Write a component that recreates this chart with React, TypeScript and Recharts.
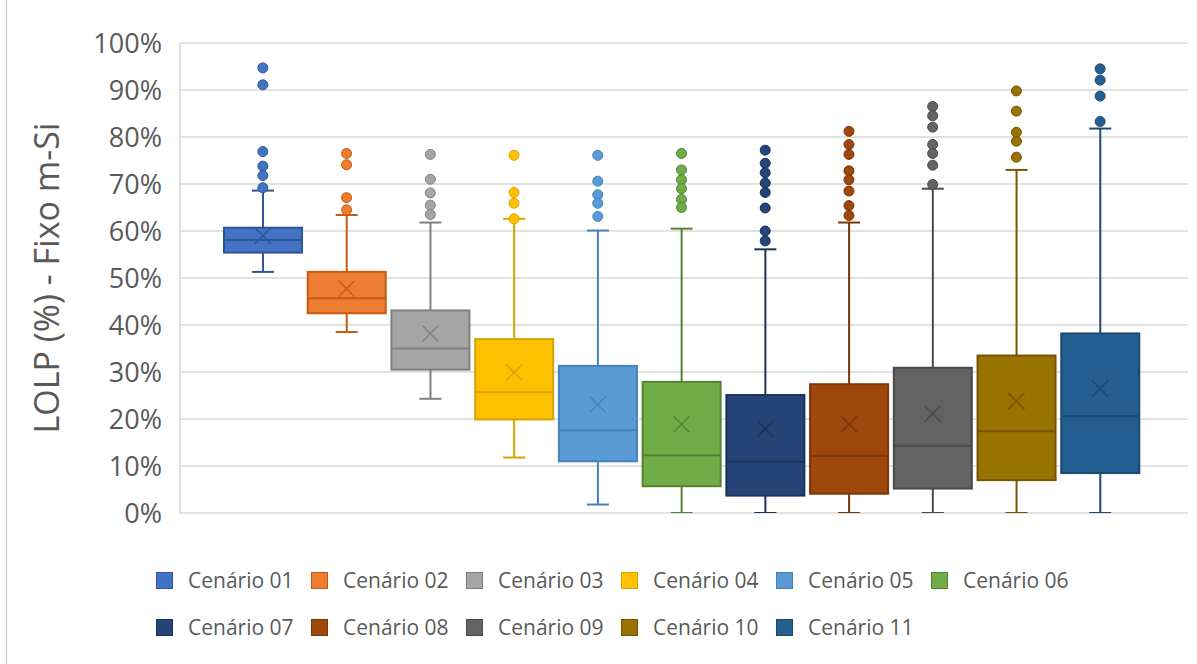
import React from 'react';
import { ComposedChart, Bar, Scatter, XAxis, YAxis, CartesianGrid } from 'recharts';

// one entry per scenario, values in %
const scenarios = ['Cenário 01', 'Cenário 02', 'Cenário 03', 'Cenário 04', 'Cenário 05', 'Cenário 06', 'Cenário 07', 'Cenário 08', 'Cenário 09', 'Cenário 10', 'Cenário 11'];
const whiskerLow = [51.3, 38.5, 24.3, 11.8, 1.8, 0, 0, 0, 0, 0, 0];
const q1 = [55.4, 42.5, 30.5, 19.9, 11.0, 5.7, 3.7, 4.1, 5.2, 7.0, 8.5];
const median = [58.1, 45.7, 35.0, 25.7, 17.6, 12.3, 10.9, 12.2, 14.3, 17.4, 20.6];
const q3 = [60.7, 51.3, 43.1, 37.0, 31.3, 27.9, 25.1, 27.4, 30.9, 33.5, 38.2];
const whiskerHigh = [68.6, 63.4, 61.8, 62.6, 60.1, 60.5, 56.1, 61.8, 69.0, 73.0, 81.8];
const means = [59.0, 47.7, 38.2, 29.9, 23.1, 18.9, 17.9, 18.9, 21.1, 23.8, 26.5];
const outliers = [
  [94.7, 91.1, 76.9, 73.8, 71.8, 69.2],
  [76.5, 74.1, 67.1, 64.5],
  [76.3, 71.0, 68.1, 65.5, 63.5],
  [76.1, 68.2, 65.9, 62.6],
  [76.1, 70.6, 67.7, 65.9, 63.1],
  [76.5, 73.0, 70.9, 69.0, 66.7, 65.0],
  [77.2, 74.4, 72.4, 70.2, 68.2, 64.9, 60.0, 57.9],
  [81.2, 78.4, 76.3, 72.8, 70.9, 68.5, 65.4, 63.3],
  [86.5, 84.5, 82.1, 78.4, 76.5, 74.0, 69.9],
  [89.8, 85.5, 81.0, 79.1, 75.7],
  [94.5, 92.1, 88.7, 83.3],
];
const yTicks = [0, 10, 20, 30, 40, 50, 60, 70, 80, 90, 100];

const fills = ['#4472C4', '#ED7D31', '#A5A5A5', '#FFC000', '#5B9BD5', '#70AD47', '#264478', '#9E480E', '#636363', '#997300', '#255E91'];
const strokes = ['#2F5597', '#C55A11', '#7F7F7F', '#D6A300', '#4382BE', '#548235', '#1B3358', '#7A3609', '#4A4A4A', '#735600', '#1C4A73'];

const boxData = scenarios.map((name, i) => ({
  name,
  idx: i,
  low: whiskerLow[i],
  q1: q1[i],
  med: median[i],
  q3: q3[i],
  high: whiskerHigh[i],
}));
const meanData = scenarios.map((name, i) => ({ name, idx: i, y: means[i] }));
const outlierData = outliers.flatMap((vals, i) => vals.map((v) => ({ name: scenarios[i], idx: i, y: v })));

const FONT = '"Open Sans", sans-serif';
const TEXT = '#595959';

const BoxShape = (props: any) => {
  const { x, y, width, height, payload } = props;
  const top = Math.min(y, y + height);
  const bot = Math.max(y, y + height);
  const k = (bot - top) / (payload.high - payload.low);
  const toY = (v: number) => bot - (v - payload.low) * k;
  const cx = x + width / 2;
  const fill = fills[payload.idx];
  const stroke = strokes[payload.idx];
  const cap = 11;
  return (
    <g>
      <line x1={cx} x2={cx} y1={top} y2={toY(payload.q3)} stroke={stroke} strokeWidth={2} />
      <line x1={cx} x2={cx} y1={toY(payload.q1)} y2={bot} stroke={stroke} strokeWidth={2} />
      <line x1={cx - cap} x2={cx + cap} y1={top} y2={top} stroke={stroke} strokeWidth={2} />
      <line x1={cx - cap} x2={cx + cap} y1={bot} y2={bot} stroke={stroke} strokeWidth={2} />
      <rect x={x} y={toY(payload.q3)} width={width} height={toY(payload.q1) - toY(payload.q3)} fill={fill} stroke={stroke} strokeWidth={2} />
      <line x1={x} x2={x + width} y1={toY(payload.med)} y2={toY(payload.med)} stroke={stroke} strokeWidth={2} />
    </g>
  );
};

const MeanShape = (props: any) => {
  const { cx, cy, payload } = props;
  const s = 8;
  const stroke = strokes[payload.idx];
  return (
    <g>
      <line x1={cx - s} y1={cy - s} x2={cx + s} y2={cy + s} stroke={stroke} strokeWidth={1.5} />
      <line x1={cx - s} y1={cy + s} x2={cx + s} y2={cy - s} stroke={stroke} strokeWidth={1.5} />
    </g>
  );
};

const OutlierShape = (props: any) => {
  const { cx, cy, payload } = props;
  return <circle cx={cx} cy={cy} r={5} fill={fills[payload.idx]} stroke={strokes[payload.idx]} strokeWidth={1} />;
};

const YLabel = (props: any) => {
  const { viewBox } = props;
  const cy = viewBox.y + viewBox.height / 2;
  return (
    <text
      x={46}
      y={cy}
      transform={`rotate(-90, 46, ${cy})`}
      textAnchor="middle"
      dominantBaseline="central"
      fill={TEXT}
      fontSize={34}
      fontFamily={FONT}
    >
      LOLP (%) - Fixo m-Si
    </text>
  );
};

export default function App() {
  return (
    <div style={{ position: 'absolute', left: 0, top: 0, width: 1197, height: 664, background: '#fff', overflow: 'hidden' }}>
      <div style={{ position: 'absolute', left: 6, top: 0, width: 1, height: 664, background: '#c8c8c8' }} />
      <ComposedChart width={1197} height={664} data={boxData} margin={{ top: 43, right: 9, bottom: 151, left: 0 }}>
        <CartesianGrid vertical={false} stroke="#d9d9d9" strokeWidth={1.5} />
        <XAxis dataKey="name" type="category" hide allowDuplicatedCategory={false} padding={{ left: 41, right: 46 }} />
        <YAxis
          dataKey="y"
          type="number"
          domain={[0, 100]}
          ticks={yTicks}
          allowDataOverflow
          width={180}
          tickFormatter={(v: number) => `${v}%`}
          tickLine={false}
          tickSize={0}
          tickMargin={18}
          axisLine={{ stroke: '#d9d9d9', strokeWidth: 1.5 }}
          tick={{ fill: TEXT, fontSize: 27, fontFamily: FONT }}
          label={<YLabel />}
        />
        <Bar dataKey={(d: any) => [d.low, d.high]} barSize={78} shape={<BoxShape />} isAnimationActive={false} />
        <Scatter data={meanData} shape={<MeanShape />} isAnimationActive={false} />
        <Scatter data={outlierData} shape={<OutlierShape />} isAnimationActive={false} />
      </ComposedChart>
      {scenarios.map((name, i) => (
        <div
          key={name}
          style={{
            position: 'absolute',
            left: 156 + (i % 6) * 155,
            top: i < 6 ? 580 : 627,
            transform: 'translateY(-50%)',
            display: 'flex',
            alignItems: 'center',
            fontFamily: FONT,
            fontSize: 21,
            color: TEXT,
            whiteSpace: 'nowrap',
          }}
        >
          <span style={{ display: 'inline-block', width: 15, height: 15, background: fills[i], border: `1px solid ${strokes[i]}`, marginRight: 15 }} />
          {name}
        </div>
      ))}
    </div>
  );
}
